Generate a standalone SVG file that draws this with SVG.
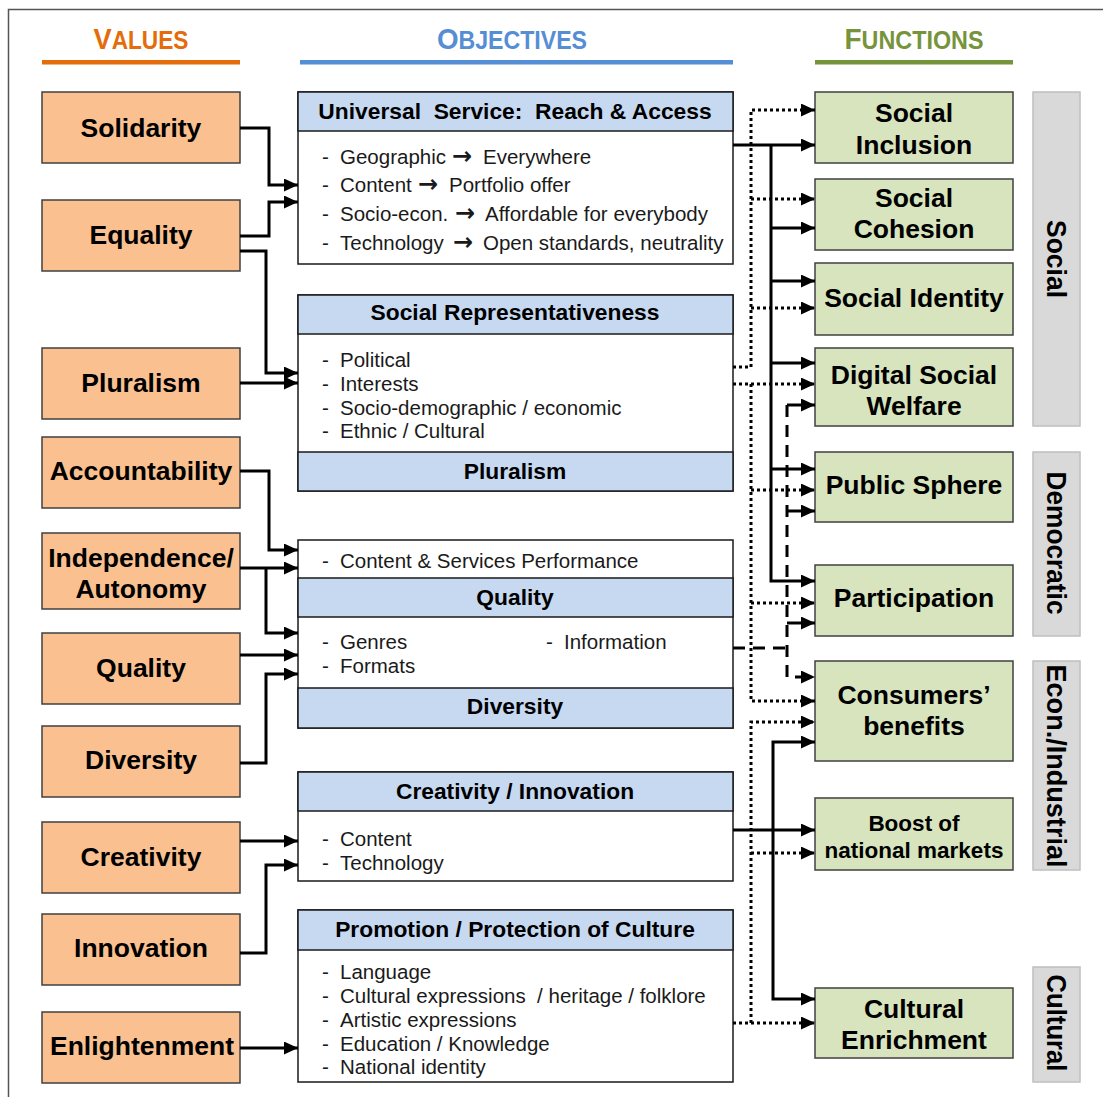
<svg xmlns="http://www.w3.org/2000/svg" width="1103" height="1097" viewBox="0 0 1103 1097">
<defs>
<marker id="ah" markerUnits="userSpaceOnUse" markerWidth="15" markerHeight="14" refX="14" refY="6.5" orient="auto">
<path d="M0,0 L14,6.5 L0,13 z" fill="#000"/>
</marker>
<style>
.val rect{fill:#FAC090;stroke:#404040;stroke-width:1.5}
.val text{font-family:"Liberation Sans",Arial,sans-serif;font-weight:bold;font-size:26.5px;fill:#000;text-anchor:middle}
.fn rect{fill:#D7E4BD;stroke:#404040;stroke-width:1.5}
.fn text{font-family:"Liberation Sans",Arial,sans-serif;font-weight:bold;font-size:26.5px;fill:#000;text-anchor:middle}
.fn text.sm{font-size:22.5px}
.obj rect.b{fill:#fff;stroke:#1a1a1a;stroke-width:1.5}
.obj rect.h{fill:#C6D9F1;stroke:#1a1a1a;stroke-width:1.5}
.obj text.h{font-family:"Liberation Sans",Arial,sans-serif;font-weight:bold;font-size:22.8px;fill:#000;text-anchor:middle;white-space:pre}
.obj text.t{font-family:"Liberation Sans",Arial,sans-serif;font-size:20.5px;fill:#1a1a1a;white-space:pre}
.ar{font-family:"DejaVu Sans",sans-serif;font-weight:bold;font-size:24px}
.side rect{fill:#D9D9D9;stroke:#BFBFBF;stroke-width:1.5}
.side text{font-family:"Liberation Sans",Arial,sans-serif;font-weight:bold;font-size:28px;fill:#000;text-anchor:middle}
.hd{font-family:"Liberation Sans",Arial,sans-serif;font-weight:bold;text-anchor:middle}
#connectors path{fill:none;stroke:#000;stroke-width:3;marker-end:url(#ah)}
#connectors path.n{marker-end:none}
#connectors path.dot{stroke-dasharray:3 3}
#connectors path.dash{stroke-dasharray:12 8}
</style>
</defs>
<rect width="1103" height="1097" fill="#fff"/>
<path d="M8.5,1097 V9.5 H1103" fill="none" stroke="#555" stroke-width="1.5"/>

<g id="headers">
<text class="hd" x="141" y="49" fill="#E46C0A" textLength="95" lengthAdjust="spacingAndGlyphs"><tspan font-size="30">V</tspan><tspan font-size="25">ALUES</tspan></text>
<rect x="42" y="60" width="198" height="4.5" fill="#E46C0A"/>
<text class="hd" x="512" y="49" fill="#558ED5" textLength="150" lengthAdjust="spacingAndGlyphs"><tspan font-size="30">O</tspan><tspan font-size="25">BJECTIVES</tspan></text>
<rect x="300" y="60" width="433" height="4.5" fill="#558ED5"/>
<text class="hd" x="914" y="49" fill="#77933C" textLength="139" lengthAdjust="spacingAndGlyphs"><tspan font-size="30">F</tspan><tspan font-size="25">UNCTIONS</tspan></text>
<rect x="815" y="60" width="198" height="4.5" fill="#77933C"/>
</g>

<g id="values" class="val">
<g id="v-solidarity"><rect x="42" y="92" width="198" height="71"/><text x="141" y="137">Solidarity</text></g>
<g id="v-equality"><rect x="42" y="200" width="198" height="71"/><text x="141" y="244">Equality</text></g>
<g id="v-pluralism"><rect x="42" y="348" width="198" height="71"/><text x="141" y="392">Pluralism</text></g>
<g id="v-accountability"><rect x="42" y="437" width="198" height="71"/><text x="141" y="480">Accountability</text></g>
<g id="v-independence"><rect x="42" y="533" width="198" height="76"/><text x="141" y="567">Independence/</text><text x="141" y="598">Autonomy</text></g>
<g id="v-quality"><rect x="42" y="633" width="198" height="71"/><text x="141" y="677">Quality</text></g>
<g id="v-diversity"><rect x="42" y="726" width="198" height="71"/><text x="141" y="769">Diversity</text></g>
<g id="v-creativity"><rect x="42" y="822" width="198" height="71"/><text x="141" y="866">Creativity</text></g>
<g id="v-innovation"><rect x="42" y="914" width="198" height="71"/><text x="141" y="957">Innovation</text></g>
<g id="v-enlightenment"><rect x="42" y="1012" width="198" height="71"/><text x="142" y="1055">Enlightenment</text></g>
</g>

<g id="objectives" class="obj">
<g id="o-universal">
<rect class="b" x="298" y="92" width="435" height="172"/>
<rect class="h" x="298" y="92" width="435" height="39"/>
<text class="h" x="515" y="119">Universal  Service:  Reach &amp; Access</text>
<text class="t" y="164"><tspan x="322">-</tspan><tspan x="340">Geographic</tspan><tspan class="ar" x="452">→</tspan><tspan x="483">Everywhere</tspan></text>
<text class="t" y="192"><tspan x="322">-</tspan><tspan x="340">Content</tspan><tspan class="ar" x="418">→</tspan><tspan x="449">Portfolio offer</tspan></text>
<text class="t" y="221"><tspan x="322">-</tspan><tspan x="340">Socio-econ.</tspan><tspan class="ar" x="455">→</tspan><tspan x="485">Affordable for everybody</tspan></text>
<text class="t" y="250"><tspan x="322">-</tspan><tspan x="340">Technology</tspan><tspan class="ar" x="453">→</tspan><tspan x="483">Open standards, neutrality</tspan></text>
</g>
<g id="o-socialrep">
<rect class="b" x="298" y="295" width="435" height="196"/>
<rect class="h" x="298" y="295" width="435" height="39"/>
<text class="h" x="515" y="320">Social Representativeness</text>
<text class="t" y="367"><tspan x="322">-</tspan><tspan x="340">Political</tspan></text>
<text class="t" y="391"><tspan x="322">-</tspan><tspan x="340">Interests</tspan></text>
<text class="t" y="415"><tspan x="322">-</tspan><tspan x="340">Socio-demographic / economic</tspan></text>
<text class="t" y="438"><tspan x="322">-</tspan><tspan x="340">Ethnic / Cultural</tspan></text>
<rect class="h" x="298" y="452" width="435" height="39"/>
<text class="h" x="515" y="479">Pluralism</text>
</g>
<g id="o-quality">
<rect class="b" x="298" y="540" width="435" height="188"/>
<text class="t" y="568"><tspan x="322">-</tspan><tspan x="340">Content &amp; Services Performance</tspan></text>
<rect class="h" x="298" y="578" width="435" height="39"/>
<text class="h" x="515" y="605">Quality</text>
<text class="t" y="649"><tspan x="322">-</tspan><tspan x="340">Genres</tspan><tspan x="546">-</tspan><tspan x="564">Information</tspan></text>
<text class="t" y="673"><tspan x="322">-</tspan><tspan x="340">Formats</tspan></text>
<rect class="h" x="298" y="688" width="435" height="40"/>
<text class="h" x="515" y="714">Diversity</text>
</g>
<g id="o-creativity">
<rect class="b" x="298" y="772" width="435" height="109"/>
<rect class="h" x="298" y="772" width="435" height="39"/>
<text class="h" x="515" y="799">Creativity / Innovation</text>
<text class="t" y="846"><tspan x="322">-</tspan><tspan x="340">Content</tspan></text>
<text class="t" y="870"><tspan x="322">-</tspan><tspan x="340">Technology</tspan></text>
</g>
<g id="o-culture">
<rect class="b" x="298" y="910" width="435" height="172"/>
<rect class="h" x="298" y="910" width="435" height="40"/>
<text class="h" x="515" y="937">Promotion / Protection of Culture</text>
<text class="t" y="979"><tspan x="322">-</tspan><tspan x="340">Language</tspan></text>
<text class="t" y="1003"><tspan x="322">-</tspan><tspan x="340">Cultural expressions  / heritage / folklore</tspan></text>
<text class="t" y="1027"><tspan x="322">-</tspan><tspan x="340">Artistic expressions</tspan></text>
<text class="t" y="1051"><tspan x="322">-</tspan><tspan x="340">Education / Knowledge</tspan></text>
<text class="t" y="1074"><tspan x="322">-</tspan><tspan x="340">National identity</tspan></text>
</g>
</g>

<g id="functions" class="fn">
<g id="f-inclusion"><rect x="815" y="92" width="198" height="71"/><text x="914" y="122">Social</text><text x="914" y="154">Inclusion</text></g>
<g id="f-cohesion"><rect x="815" y="179" width="198" height="71"/><text x="914" y="207">Social</text><text x="914" y="238">Cohesion</text></g>
<g id="f-identity"><rect x="815" y="263" width="198" height="72"/><text x="914" y="307">Social Identity</text></g>
<g id="f-welfare"><rect x="815" y="348" width="198" height="78"/><text x="914" y="384">Digital Social</text><text x="914" y="415">Welfare</text></g>
<g id="f-sphere"><rect x="815" y="452" width="198" height="70"/><text x="914" y="494">Public Sphere</text></g>
<g id="f-participation"><rect x="815" y="565" width="198" height="71"/><text x="914" y="607">Participation</text></g>
<g id="f-consumers"><rect x="815" y="661" width="198" height="100"/><text x="914" y="704">Consumers’</text><text x="914" y="735">benefits</text></g>
<g id="f-boost"><rect x="815" y="798" width="198" height="72"/><text class="sm" x="914" y="831">Boost of</text><text class="sm" x="914" y="858">national markets</text></g>
<g id="f-culture"><rect x="815" y="988" width="198" height="70"/><text x="914" y="1018">Cultural</text><text x="914" y="1049">Enrichment</text></g>
</g>

<g id="sides" class="side">
<g id="s-social"><rect x="1033" y="92" width="47" height="334"/><text transform="translate(1056.5,259) rotate(90)" y="10" textLength="78" lengthAdjust="spacingAndGlyphs">Social</text></g>
<g id="s-democratic"><rect x="1033" y="452" width="47" height="184"/><text transform="translate(1056.5,543) rotate(90)" y="10" textLength="143" lengthAdjust="spacingAndGlyphs">Democratic</text></g>
<g id="s-econ"><rect x="1033" y="661" width="47" height="209"/><text transform="translate(1056.5,766) rotate(90)" y="10" textLength="203" lengthAdjust="spacingAndGlyphs">Econ./Industrial</text></g>
<g id="s-cultural"><rect x="1033" y="967" width="47" height="115"/><text transform="translate(1056.5,1023) rotate(90)" y="10" textLength="97" lengthAdjust="spacingAndGlyphs">Cultural</text></g>
</g>

<g id="connectors">
<path d="M240,128 H269 V185 H298"/>
<path d="M240,236 H269 V202 H298"/>
<path d="M240,251 H266 V373 H298"/>
<path d="M240,383 H298"/>
<path d="M240,471 H269 V550 H298"/>
<path d="M240,568 H298"/>
<path d="M266,568 V633 H298"/>
<path d="M240,655 H298"/>
<path d="M240,763 H266 V674 H298"/>
<path d="M240,841 H298"/>
<path d="M240,953 H266 V865 H298"/>
<path d="M240,1048 H298"/>

<path d="M733,145 H815"/>
<path d="M771,145 V581 H815"/>
<path d="M771,228 H815"/>
<path d="M771,281 H815"/>
<path d="M771,363 H815"/>
<path d="M771,469 H815"/>
<path d="M733,830 H815"/>
<path d="M773,830 V742 H815"/>
<path d="M773,830 V999 H815"/>

<path class="dot" d="M733,367 H751 V110 H815"/>
<path class="dot" d="M751,199 H815"/>
<path class="dot" d="M751,308 H815"/>
<path class="dot" d="M733,384 H815"/>
<path class="dot" d="M751,384 V701 H815"/>
<path class="dot" d="M751,490 H815"/>
<path class="dot" d="M751,603 H815"/>
<path class="dot" d="M733,1023 H815"/>
<path class="dot" d="M751,1023 V722 H815"/>
<path class="dot" d="M751,853 H815"/>

<path class="dash n" d="M733,648 H787"/>
<path class="dash" d="M787,405 V677 H815"/>
<path d="M787,405 H815"/>
<path d="M787,511 H815"/>
<path d="M787,623 H815"/>
</g>
</svg>
